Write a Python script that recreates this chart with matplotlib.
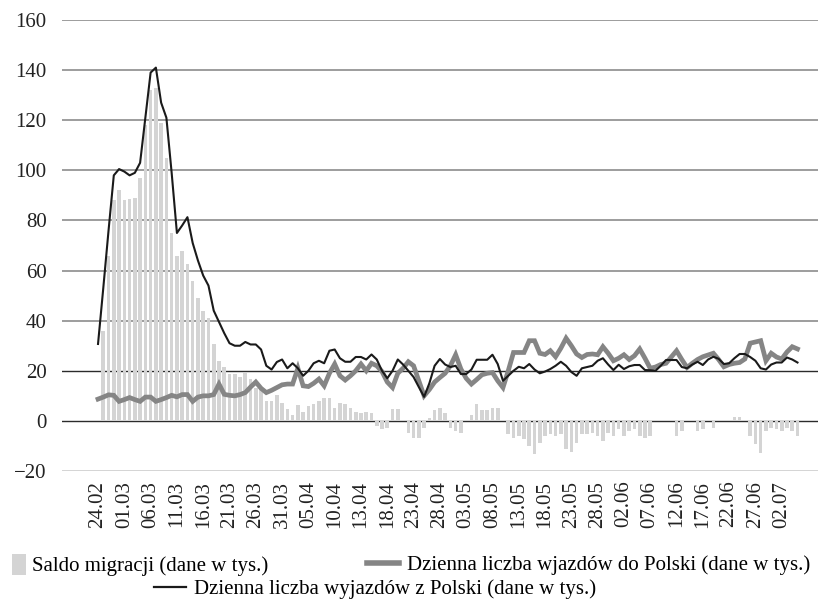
import numpy as np
import matplotlib.pyplot as plt
from matplotlib.patches import Patch
from matplotlib.lines import Line2D

plt.rcParams['font.family'] = ['Liberation Serif', 'DejaVu Serif']

# tick labels (every 5th day)
tick_labels = ['24.02', '01.03', '06.03', '11.03', '16.03', '21.03', '26.03', '31.03',
               '05.04', '10.04', '13.04', '18.04', '23.04', '28.04', '03.05', '08.05',
               '13.05', '18.05', '23.05', '28.05', '02.06', '07.06', '12.06', '17.06',
               '22.06', '27.06', '02.07']

# saldo migracji (bars), thousands
saldo = [np.nan, 36, 66, 88, 92, 88, 88.5, 89, 97, 118,
         132, 133, 119, 105, 75, 66, 68, 62.5, 56, 49,
         44, 41, 30.7, 24, 21.6, 18.7, 18.7, 17.6, 19.7, 16.7,
         13.3, 12.7, 8, 8, 10.3, 7, 4.7, 2.3, 6.4, 3.7,
         6, 6.7, 8, 9.3, 9.3, 5.3, 7.3, 6.7, 5.3, 3.7,
         3, 3.7, 3, -2, -3.3, -2.7, 4.7, 4.7, 0, -4.7,
         -6.7, -6.7, -2.7, 1.3, 4.3, 5.3, 3, -2.7, -4, -4.7,
         0, 2.3, 6.7, 4.3, 4.3, 5.3, 5.3, 0, -5.3, -6.7,
         -6, -7.3, -10, -13.3, -8.7, -6, -5.3, -6, -5.3, -11.3,
         -12.3, -8.7, -5.3, -5.3, -4.7, -6, -8, -4.7, -6, -3.3,
         -6, -4, -3.3, -6, -6.7, -6, 0, 0, 0, 0,
         -6, -4, 0, 0, -4, -3.3, 0, -2.7, 0, 0,
         0, 1.7, 1.7, 0, -6, -9.3, -13, -4, -2.7, -3.3,
         -4, -2.7, -4, -6]

# dzienna liczba wjazdow do Polski (grey line)
wjazdy = [8.7, 9.5, 10.4, 10.2, 7.8, 8.5, 9.3, 8.5, 7.8, 9.5,
          9.5, 7.8, 8.5, 9.3, 10.2, 9.6, 10.5, 10.5, 7.8, 9.5,
          10, 10, 10.5, 14.7, 10.6, 10.2, 10, 10.5, 11.3, 13.5,
          15.5, 13, 11.3, 12.2, 13.3, 14.4, 14.7, 14.7, 21, 14,
          13.7, 15, 16.7, 14, 19, 22.7, 18, 16.3, 18, 20,
          22.7, 20, 23, 22, 19.7, 15.5, 13.3, 19, 21, 23.6,
          22, 16, 10, 12.5, 15.5, 17.3, 19, 22, 26.4, 20.7,
          17, 14.7, 16.5, 18.4, 19, 19.3, 16, 13.3, 20, 27.3,
          27.3, 27.3, 32, 32, 27, 26.5, 28, 25.6, 29, 33,
          30, 26.7, 25.3, 26.5, 26.7, 26.4, 29.6, 27, 24, 25,
          26.4, 24.5, 26, 28.7, 25, 21, 21.5, 22.5, 23, 25.5,
          28, 24.5, 21.3, 23, 24.5, 25.6, 26.3, 27, 24.5, 21.6,
          22.5, 23, 23.3, 24.7, 31, 31.5, 32, 24, 27, 25.5,
          24.7, 27.5, 29.6, 28.7]

# dzienna liczba wyjazdow z Polski (black line)
wyjazdy = [30.7, 53, 76, 98, 100.5, 99.5, 98, 99, 103, 121,
           139, 141, 127, 121, 99, 75, 78, 81.3, 71, 64,
           58, 54, 44, 39.5, 35, 31, 30, 30, 31.5, 30.5,
           30.5, 28.5, 22, 20.5, 23.5, 24.5, 21, 23, 21, 18,
           20, 23, 24, 23, 28, 28.5, 25, 23.6, 23.6, 25.5,
           25.5, 24.5, 26.5, 24.5, 20, 17, 20, 24.5, 22.5, 20,
           17.5, 13.5, 9.6, 15, 22, 24.7, 22.5, 21.5, 22, 18.7,
           18.7, 20.5, 24.4, 24.4, 24.4, 26.4, 22.7, 16, 18, 20,
           21.6, 21, 22.7, 20.5, 19, 19.7, 20.7, 22, 23.6, 22,
           19.5, 18, 21, 21.5, 22, 24, 25, 22.5, 20.3, 22.4,
           20.7, 21.8, 22.3, 22.3, 20.3, 20.2, 20, 22, 24.3, 24.3,
           24.3, 21.5, 21, 22.5, 23.6, 22.3, 24.5, 25.6, 24.8, 22.7,
           23, 25, 26.7, 26.7, 25.5, 24, 21, 20.5, 22.5, 23.3,
           23.3, 25.3, 24.5, 23.3]

x = np.arange(len(wyjazdy))

fig = plt.figure(figsize=(8.21, 6.06), dpi=100)
ax = fig.add_axes([62 / 821, 1 - 471 / 606, 756 / 821, 451 / 606])

# gridlines
for v in range(-20, 161, 20):
    if v >= 40:
        ax.axhline(v, color='#8c8c8c', lw=1.2, zorder=0)
    else:
        ax.axhline(v, color='#2b2b2b', lw=1.0, zorder=0)

ax.bar(x, saldo, width=0.68, color='#d4d4d4', zorder=1)
ax.plot(x, wjazdy, color='#858585', lw=3.4, zorder=2, solid_joinstyle='miter')
ax.plot(x, wyjazdy, color='#1a1a1a', lw=1.5, zorder=3)

ax.set_xlim(-6.85, 136.9)
ax.set_ylim(-20, 160)
ax.set_yticks(range(-20, 161, 20))
ax.set_yticklabels([str(v).replace('-', '\u2212') for v in range(-20, 161, 20)])
ax.set_xticks(np.arange(0, len(tick_labels) * 5, 5))
ax.set_xticklabels(tick_labels, rotation=90)
ax.tick_params(axis='y', length=0, pad=11, labelsize=15, labelcolor='#222222')
ax.tick_params(axis='x', length=0, pad=7, labelsize=15, labelcolor='#222222')
for s in ax.spines.values():
    s.set_visible(False)

# legend
fs = 15
h1 = Patch(facecolor='#d4d4d4', edgecolor='none')
h2 = Line2D([], [], color='#858585', lw=4)
h3 = Line2D([], [], color='#1a1a1a', lw=1.6)
l1 = fig.legend([h1], ['Saldo migracji (dane w tys.)'], loc='center left',
                bbox_to_anchor=(0.004, 1 - 565 / 606), frameon=False, fontsize=fs,
                handlelength=0.7, handleheight=1.2, handletextpad=0.3, borderaxespad=0)
l2 = fig.legend([h2], ['Dzienna liczba wjazdów do Polski (dane w tys.)'], loc='center right',
                bbox_to_anchor=(0.997, 1 - 565 / 606), frameon=False, fontsize=fs,
                handlelength=1.5, handletextpad=0.4, borderaxespad=0)
l3 = fig.legend([h3], ['Dzienna liczba wyjazdów z Polski (dane w tys.)'], loc='center',
                bbox_to_anchor=(0.457, 1 - 589 / 606), frameon=False, fontsize=fs,
                handlelength=1.5, handletextpad=0.4, borderaxespad=0)

fig.savefig('out.png', dpi=100)
